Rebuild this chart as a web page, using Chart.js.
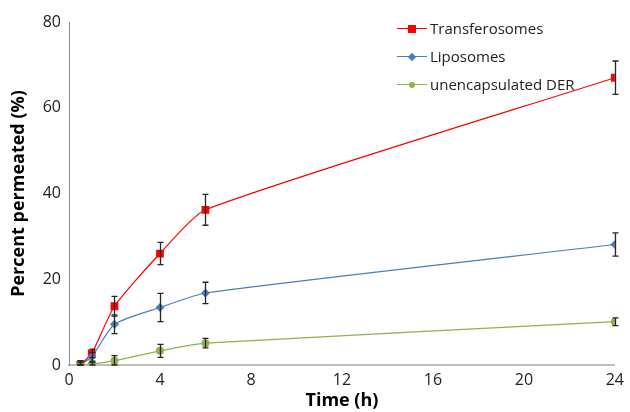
<!DOCTYPE html>
<html>
<head>
<meta charset="utf-8">
<script src="https://cdn.jsdelivr.net/npm/chart.js@4"></script>
<style>
  body { margin: 0; background: #fff; }
  #wrap { position: relative; width: 630px; height: 412px; }
  #legend { position: absolute; left: 397px; top: 18px; font-family: "Open Sans", sans-serif; font-size: 15px; color: #222; }
  .row { position: relative; height: 28px; line-height: 21px; padding-left: 33px; }
  .row .ln { position: absolute; left: 0; top: 10px; width: 30px; height: 1px; }
  .row .mk { position: absolute; }
</style>
</head>
<body>
<div id="wrap">
  <canvas id="chart" width="630" height="412"></canvas>
  <div id="legend"></div>
</div>
<script>
var times = [0.5, 1, 2, 4, 6, 24];
var transferosomes = [0, 2.7, 13.7, 26, 36.2, 67];
var transferosomesErr = [1, 1, 2.3, 2.6, 3.6, 3.9];
var liposomes = [0, 1.9, 9.5, 13.4, 16.8, 28.1];
var liposomesErr = [1, 1, 2.2, 3.3, 2.5, 2.7];
var unencapsulated = [0, 0.2, 1, 3.3, 5.1, 10.1];
var unencapsulatedErr = [0.6, 0.4, 1.2, 1.5, 1.1, 0.9];

var seriesNames = ['Transferosomes', 'Liposomes', 'unencapsulated DER'];
var seriesColors = ['#ff0000', '#4a7ebb', '#8fb24a'];
var pointStyles = ['rect', 'rectRot', 'circle'];
var pointSizes = [5.5, 4.5, 4];

var seriesValues = [transferosomes, liposomes, unencapsulated];
var errors = [transferosomesErr, liposomesErr, unencapsulatedErr];

function toPoints(values) {
    return times.map(function(t, i) { return { x: t, y: values[i] }; });
}

var errorBarPlugin = {
    id: 'errorBars',
    afterDatasetsDraw: function(chart) {
        var ctx = chart.ctx;
        var xs = chart.scales.x, ys = chart.scales.y;
        ctx.save();
        ctx.strokeStyle = '#262626';
        ctx.lineWidth = 1.3;
        chart.data.datasets.forEach(function(ds) {
            ds.data.forEach(function(p, i) {
                var e = ds.err[i];
                var px = Math.round(xs.getPixelForValue(p.x)) + 0.5;
                var top = ys.getPixelForValue(p.y + e);
                var bot = ys.getPixelForValue(Math.max(p.y - e, 0));
                ctx.beginPath();
                ctx.moveTo(px, top); ctx.lineTo(px, bot);
                ctx.moveTo(px - 3, top); ctx.lineTo(px + 3, top);
                ctx.moveTo(px - 3, bot); ctx.lineTo(px + 3, bot);
                ctx.stroke();
            });
        });
        ctx.restore();
    }
};

var datasets = seriesValues.map(function(vals, i) {
    return {
        label: seriesNames[i],
        data: toPoints(vals),
        err: errors[i],
        borderColor: seriesColors[i],
        backgroundColor: seriesColors[i],
        borderWidth: 1.2,
        pointStyle: pointStyles[i],
        pointRadius: pointSizes[i],
        pointBorderWidth: 0,
        tension: 0.2,
        fill: false
    };
}).reverse();

var ctx = document.getElementById('chart').getContext('2d');
var chart = new Chart(ctx, {
    type: 'line',
    data: { datasets: datasets },
    options: {
        responsive: false,
        animation: false,
        layout: { padding: { top: 22, right: 12, left: 0, bottom: 0 } },
        plugins: { legend: { display: false }, tooltip: { enabled: false } },
        scales: {
            x: {
                type: 'linear',
                min: 0, max: 24,
                afterFit: function(s) { s.height = 47; },
                grid: { display: false, drawTicks: false },
                border: { color: '#bfbfbf', width: 2 },
                ticks: { stepSize: 4, color: '#222', padding: 6, font: { family: 'Open Sans', size: 16 } },
                title: { display: true, text: 'Time (h)', color: '#000', padding: { top: 0, bottom: 0 },
                         font: { family: 'Open Sans', size: 18, weight: 'bold' } }
            },
            y: {
                min: 0, max: 80,
                afterFit: function(s) { s.width = 69; },
                grid: { display: false, drawTicks: false },
                border: { color: '#8c8c8c', width: 1 },
                ticks: { stepSize: 20, color: '#222', padding: 8, font: { family: 'Open Sans', size: 16 } },
                title: { display: true, text: 'Percent permeated (%)', color: '#000', padding: { top: 8, bottom: 0 },
                         font: { family: 'Open Sans', size: 18, weight: 'bold' } }
            }
        }
    },
    plugins: [errorBarPlugin]
});

var legend = document.getElementById('legend');
seriesNames.forEach(function(name, i) {
    var row = document.createElement('div');
    row.className = 'row';
    var ln = document.createElement('div');
    ln.className = 'ln';
    ln.style.background = seriesColors[i];
    var mk = document.createElement('div');
    mk.className = 'mk';
    var s = i === 0 ? 8 : 6;
    mk.style.width = s + 'px';
    mk.style.height = s + 'px';
    mk.style.left = (15 - s / 2) + 'px';
    mk.style.top = (10.5 - s / 2) + 'px';
    mk.style.background = seriesColors[i];
    if (i === 1) mk.style.transform = 'rotate(45deg)';
    if (i === 2) mk.style.borderRadius = '50%';
    row.appendChild(ln);
    row.appendChild(mk);
    row.appendChild(document.createTextNode(name));
    legend.appendChild(row);
});
</script>
</body>
</html>
